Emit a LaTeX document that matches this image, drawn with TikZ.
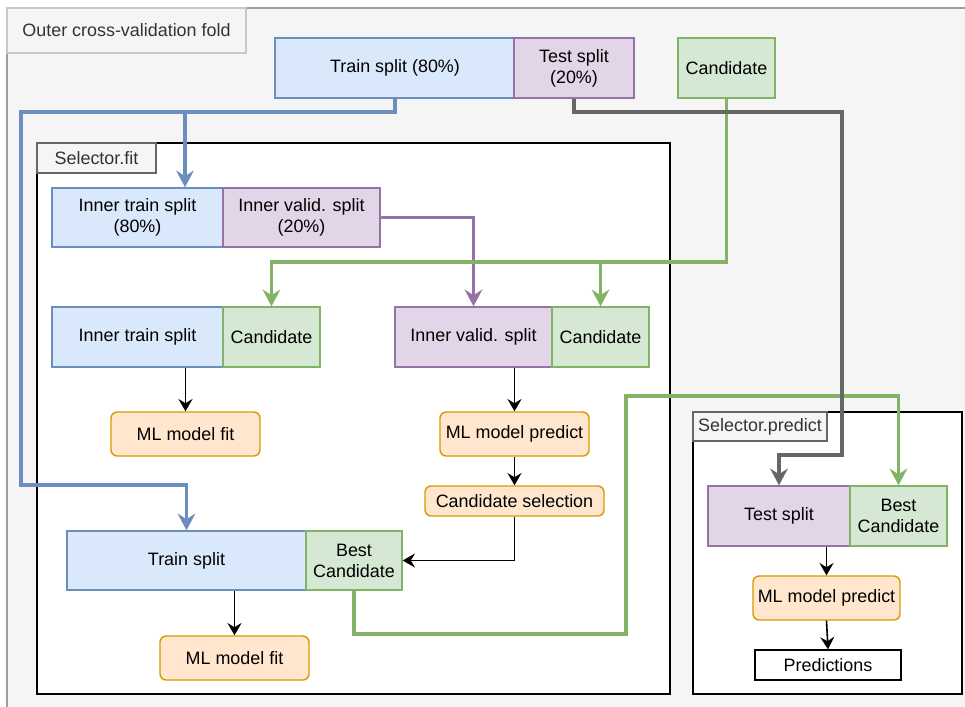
\documentclass[tikz,border=0pt]{standalone}
\usepackage{fontspec}
\setmainfont{Liberation Sans}
\usetikzlibrary{arrows.meta}

\definecolor{trainFill}{HTML}{DAE8FC}
\definecolor{trainLine}{HTML}{6C8EBF}
\definecolor{testFill}{HTML}{E1D5E7}
\definecolor{testLine}{HTML}{9673A6}
\definecolor{candFill}{HTML}{D5E8D4}
\definecolor{candLine}{HTML}{82B366}
\definecolor{stepFill}{HTML}{FFE6CC}
\definecolor{stepLine}{HTML}{D79B00}
\definecolor{foldFill}{HTML}{F5F5F5}
\definecolor{foldLine}{HTML}{9E9E9E}
\definecolor{darkLine}{HTML}{666666}

\tikzset{
  base/.style={draw, line width=0.8pt, inner sep=1pt, align=center,
    font=\fontsize{10.2}{12}\selectfont},
  trainbox/.style={base, fill=trainFill, draw=trainLine},
  testbox/.style={base, fill=testFill, draw=testLine},
  candbox/.style={base, fill=candFill, draw=candLine},
  stepbox/.style={base, fill=stepFill, draw=stepLine, rounded corners=3.5pt},
  tagbox/.style={base, fill=foldFill, draw=darkLine, text=black!80},
  flow/.style={line width=1.8pt, -{Stealth[length=9.5pt,width=10pt,inset=3.2pt]}},
  blackarrow/.style={line width=0.9pt, -{Stealth[length=7pt,width=8pt,inset=2.4pt]}},
}

\begin{document}
\begin{tikzpicture}[x=0.02cm, y=-0.02cm]
    \useasboundingbox (0,0) rectangle (965,707);

    % Outer fold (grey)
    \draw[fill=foldFill, draw=foldLine, line width=1pt] (7,8) rectangle (990,730);
    \node[tagbox, draw=black!22, minimum width=4.78cm, minimum height=0.9cm] (foldtag) at (126.5,30.5)
        {Outer cross-validation fold};

    % Selector.fit and Selector.predict frames
    \draw[fill=white, line width=0.8pt] (37,143) rectangle (670,694);
    \node[tagbox, minimum width=2.38cm, minimum height=0.6cm] (fittag) at (96.5,158) {Selector.fit};
    \draw[fill=white, line width=0.8pt] (693,412) rectangle (962,694);
    \node[tagbox, minimum width=2.68cm, minimum height=0.58cm] (predtag) at (760,426.5) {Selector.predict};

    % Top row
    \node[trainbox, minimum width=4.8cm, minimum height=1.2cm] (train) at (395,68) {Train split (80\%)};
    \node[testbox, minimum width=2.4cm, minimum height=1.2cm] (test) at (574,68) {Test split\\(20\%)};
    \node[candbox, minimum width=1.94cm, minimum height=1.2cm] (cand) at (726.5,68) {Candidate};

    % Inner split
    \node[trainbox, minimum width=3.42cm, minimum height=1.18cm] (intrain) at (137.5,217.5)
        {Inner train split\\(80\%)};
    \node[testbox, minimum width=3.14cm, minimum height=1.18cm] (invalid) at (301.5,217.5)
        {Inner valid. split\\(20\%)};

    % Inner fit / predict
    \node[trainbox, minimum width=3.42cm, minimum height=1.2cm] (fittrain) at (137.5,337) {Inner train split};
    \node[candbox, minimum width=1.94cm, minimum height=1.2cm] (fitcand) at (271.5,337) {Candidate};
    \node[testbox, minimum width=3.14cm, minimum height=1.2cm] (predvalid) at (473.5,337) {Inner valid. split};
    \node[candbox, minimum width=1.94cm, minimum height=1.2cm] (predcand) at (600.5,337) {Candidate};
    \node[stepbox, minimum width=2.98cm, minimum height=0.88cm] (fitone) at (185.5,434) {ML model fit};
    \node[stepbox, minimum width=2.98cm, minimum height=0.88cm] (predone) at (514.5,434) {ML model predict};
    \node[stepbox, minimum width=3.58cm, minimum height=0.6cm] (select) at (514.5,501) {Candidate selection};

    % Refit on the train split
    \node[trainbox, minimum width=4.78cm, minimum height=1.18cm] (refit) at (186.5,560.5) {Train split};
    \node[candbox, minimum width=1.92cm, minimum height=1.18cm] (best) at (354,560.5) {Best\\Candidate};
    \node[stepbox, minimum width=2.98cm, minimum height=0.88cm] (fittwo) at (234.5,658) {ML model fit};

    % Selector.predict
    \node[testbox, minimum width=2.84cm, minimum height=1.2cm] (testin) at (779,516) {Test split};
    \node[candbox, minimum width=1.94cm, minimum height=1.2cm] (bestin) at (898.5,516) {Best\\Candidate};
    \node[stepbox, minimum width=2.94cm, minimum height=0.88cm] (predtwo) at (826.5,598) {ML model predict};
    \node[base, fill=white, minimum width=2.92cm, minimum height=0.6cm] (out) at (828,665) {Predictions};

    % Blue connectors
    \coordinate (tsplit) at (185,112);
    \draw[flow, draw=trainLine] (train.south) |- (tsplit) -- (tsplit |- intrain.north);
    \draw[flow, draw=trainLine] (train.south) |- (21,112) -- (21,485) -| (refit.north);

    % Purple connector
    \draw[flow, draw=testLine] (invalid.east) -| (predvalid.north);

    % Green connectors
    \coordinate (gsplit) at (0,262);
    \draw[flow, draw=candLine] (cand.south) |- (fitcand.north |- gsplit) -- (fitcand.north);
    \draw[flow, draw=candLine] (cand.south) |- (predcand.north |- gsplit) -- (predcand.north);
    \draw[flow, draw=candLine] (best.south) |- (626,634) -- (626,396) -| (bestin.north);

    % Grey connector
    \draw[flow, draw=darkLine] (test.south) |- (842,112) -- (842,455) -| (testin.north);

    % Black connectors
    \draw[blackarrow] (fitone.north |- fittrain.south) -- (fitone.north);
    \draw[blackarrow] (predone.north |- predvalid.south) -- (predone.north);
    \draw[blackarrow] (predone.south) -- (select.north);
    \draw[blackarrow] (select.south) |- (best.east);
    \draw[blackarrow] (fittwo.north |- refit.south) -- (fittwo.north);
    \draw[blackarrow] (predtwo.north |- testin.south) -- (predtwo.north);
    \draw[blackarrow] (predtwo.south) -- (out.north);
\end{tikzpicture}
\end{document}
